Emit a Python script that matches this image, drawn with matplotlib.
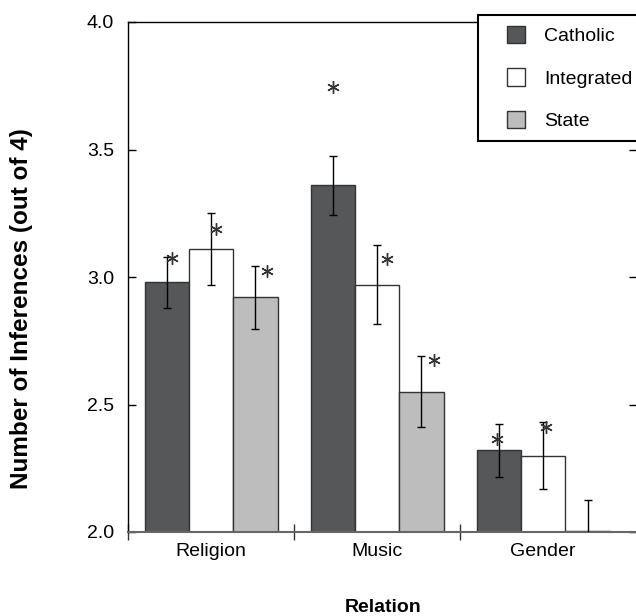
import matplotlib
matplotlib.use("Agg")
import matplotlib.pyplot as plt
from matplotlib.patches import Patch, Rectangle
from matplotlib.legend_handler import HandlerPatch
import numpy as np

# data
relations = ["Religion", "Music", "Gender"]
schools = ["Catholic", "Integrated", "State"]
catholic = [2.98, 3.36, 2.32]
integrated = [3.11, 2.97, 2.30]
state = [2.92, 2.55, 2.005]
catholic_err = [0.10, 0.115, 0.105]
integrated_err = [0.14, 0.155, 0.133]
state_err = [0.125, 0.14, 0.12]
# asterisk heights (None = no asterisk)
catholic_star = [3.075, 3.745, 2.365]
integrated_star = [3.19, 3.07, 2.41]
state_star = [3.025, 2.675, None]

colors = ["#555759", "#ffffff", "#bdbdbd"]

plt.rcParams["font.family"] = ["Liberation Sans", "DejaVu Sans"]

fig = plt.figure(figsize=(6.36, 6.16), dpi=100)
ax = fig.add_axes([128 / 636, 84 / 616, 509 / 636, 510 / 616])

x = np.arange(len(relations))
w = 0.267
series = [catholic, integrated, state]
errs = [catholic_err, integrated_err, state_err]
stars = [catholic_star, integrated_star, state_star]
# small sideways nudge of each asterisk, per school and relation
star_dx = [[0.033, 0.0, -0.01], [0.03, 0.06, 0.018], [0.069, 0.078, 0.0]]

for i, (vals, err, col) in enumerate(zip(series, errs, colors)):
    pos = x + (i - 1) * w
    heights = [v - 2.0 for v in vals]
    ax.bar(pos, heights, w, bottom=2.0, color=col, edgecolor="#333333",
           linewidth=1.0, zorder=2)
    ax.errorbar(pos, vals, yerr=err, fmt="none", ecolor="black",
                elinewidth=1.0, capsize=3, capthick=1.0, zorder=3)
    for j, s in enumerate(stars[i]):
        if s is None:
            continue
        ax.plot(pos[j] + star_dx[i][j], s, marker=(6, 2, 0), markersize=9,
                color="#333333", markeredgewidth=1.0, zorder=4)

ax.set_ylim(2.0, 4.0)
ax.set_xlim(-0.5, 2.565)
ax.set_yticks([2.0, 2.5, 3.0, 3.5, 4.0])
ax.set_yticklabels(["2.0", "2.5", "3.0", "3.5", "4.0"])
ax.set_xticks(x)
ax.set_xticklabels(relations)
ax.set_xticks([-0.5, 0.5, 1.5], minor=True)

ax.tick_params(axis="y", direction="in", length=6, width=1, pad=10,
               labelsize=14, right=True)
ax.tick_params(axis="x", which="major", length=0, pad=8, labelsize=14)
ax.tick_params(axis="x", which="minor", direction="inout", length=12,
               width=1, color="#333333")

for side in ["top", "left", "right"]:
    ax.spines[side].set_color("black")
    ax.spines[side].set_linewidth(1.0)
ax.spines["bottom"].set_color("#666666")
ax.spines["bottom"].set_linewidth(1.5)

fig.text(383 / 636, 1 - 607 / 616, "Relation", ha="center", va="center",
         fontsize=14, fontweight="bold")
fig.text(22 / 636, 1 - 309 / 616, "Number of Inferences (out of 4)",
         ha="center", va="center", rotation=90, fontsize=17.5,
         fontweight="bold")


def square_right(legend, orig_handle, xdescent, ydescent, width, height, fontsize):
    # square handle sitting at the right end of the handle box
    return Rectangle((width - height - xdescent, -ydescent), height, height)


handles = [Patch(facecolor=c, edgecolor="#333333", linewidth=1.0) for c in colors]
leg = ax.legend(handles, schools, loc="upper left",
                bbox_to_anchor=(478 / 636, 1 - 15 / 616),
                bbox_transform=fig.transFigure, fontsize=14, frameon=True,
                fancybox=False, edgecolor="black", framealpha=1,
                handlelength=1.85, handleheight=1.0, handletextpad=1.0,
                labelspacing=1.2, borderpad=0.55, borderaxespad=0,
                handler_map={Patch: HandlerPatch(patch_func=square_right)})
leg.get_frame().set_linewidth(1.5)
leg.set_zorder(10)

fig.savefig("out.png", dpi=100)
